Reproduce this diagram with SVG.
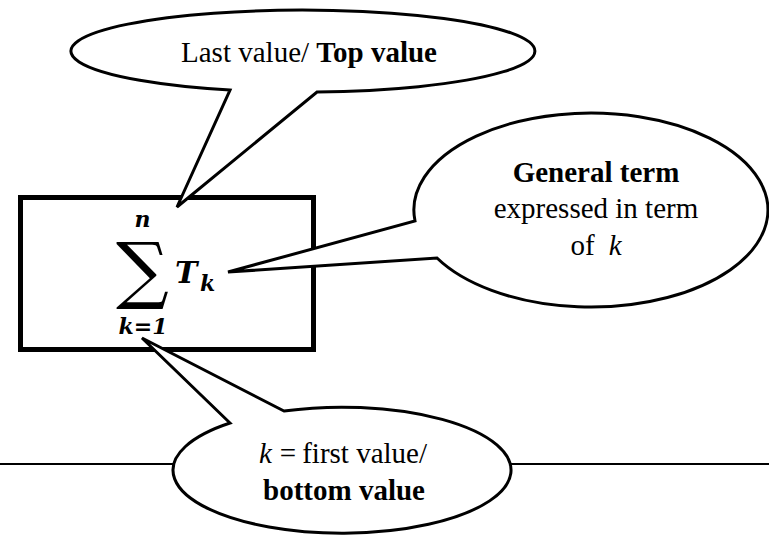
<svg xmlns="http://www.w3.org/2000/svg" width="769" height="535" viewBox="0 0 769 535">
<style>
.bub{fill:#fff;stroke:#000;stroke-width:3;stroke-linejoin:miter}
.t{font-family:"Liberation Serif","Times New Roman",serif;font-size:29px;fill:#000}
.b{font-weight:bold}
.i{font-style:italic}
.m{font-family:"DejaVu Serif",serif;font-weight:bold;font-style:italic;fill:#000}
</style>
<rect width="769" height="535" fill="#fff"/>
<g id="connectors">
<line x1="0" y1="464" x2="769" y2="464" stroke="#000" stroke-width="2"/>
</g>
<g id="box">
<rect x="20.5" y="197.5" width="293" height="152" fill="#fff" stroke="#000" stroke-width="5"/>
<text x="142.5" y="227" class="m" font-size="22" text-anchor="middle">n</text>
<text x="142.5" y="295" font-family="DejaVu Serif,serif" font-size="74" text-anchor="middle">∑</text>
<text x="143" y="334" class="m" font-size="22" text-anchor="middle">k=1</text>
<text x="175" y="283" class="m" font-size="30">T</text>
<text x="200" y="291" class="m" font-size="22">k</text>
</g>
<g id="top-bubble">
<path class="bub" d="M230,90 A232,41 0 1 1 317,92 L177,207 Z"/>
<text x="309" y="62" class="t" text-anchor="middle">Last value/ <tspan class="b">Top value</tspan></text>
</g>
<g id="right-bubble">
<path class="bub" d="M415,221 A177,97 0 1 1 437,258 L228,272 Z"/>
<text x="596" y="182" class="t b" text-anchor="middle">General term</text>
<text x="596" y="218" class="t" text-anchor="middle">expressed in term</text>
<text x="596" y="255" class="t" text-anchor="middle">of<tspan class="i" dx="14">k</tspan></text>
</g>
<g id="bottom-bubble">
<path class="bub" d="M230,423 A169,63 0 1 0 284,411 L142,338 Z"/>
<text x="343" y="463" class="t" text-anchor="middle"><tspan class="i">k</tspan><tspan dx="8">=</tspan><tspan dx="6">first value/</tspan></text>
<text x="344" y="500" class="t b" text-anchor="middle">bottom value</text>
</g>
</svg>
